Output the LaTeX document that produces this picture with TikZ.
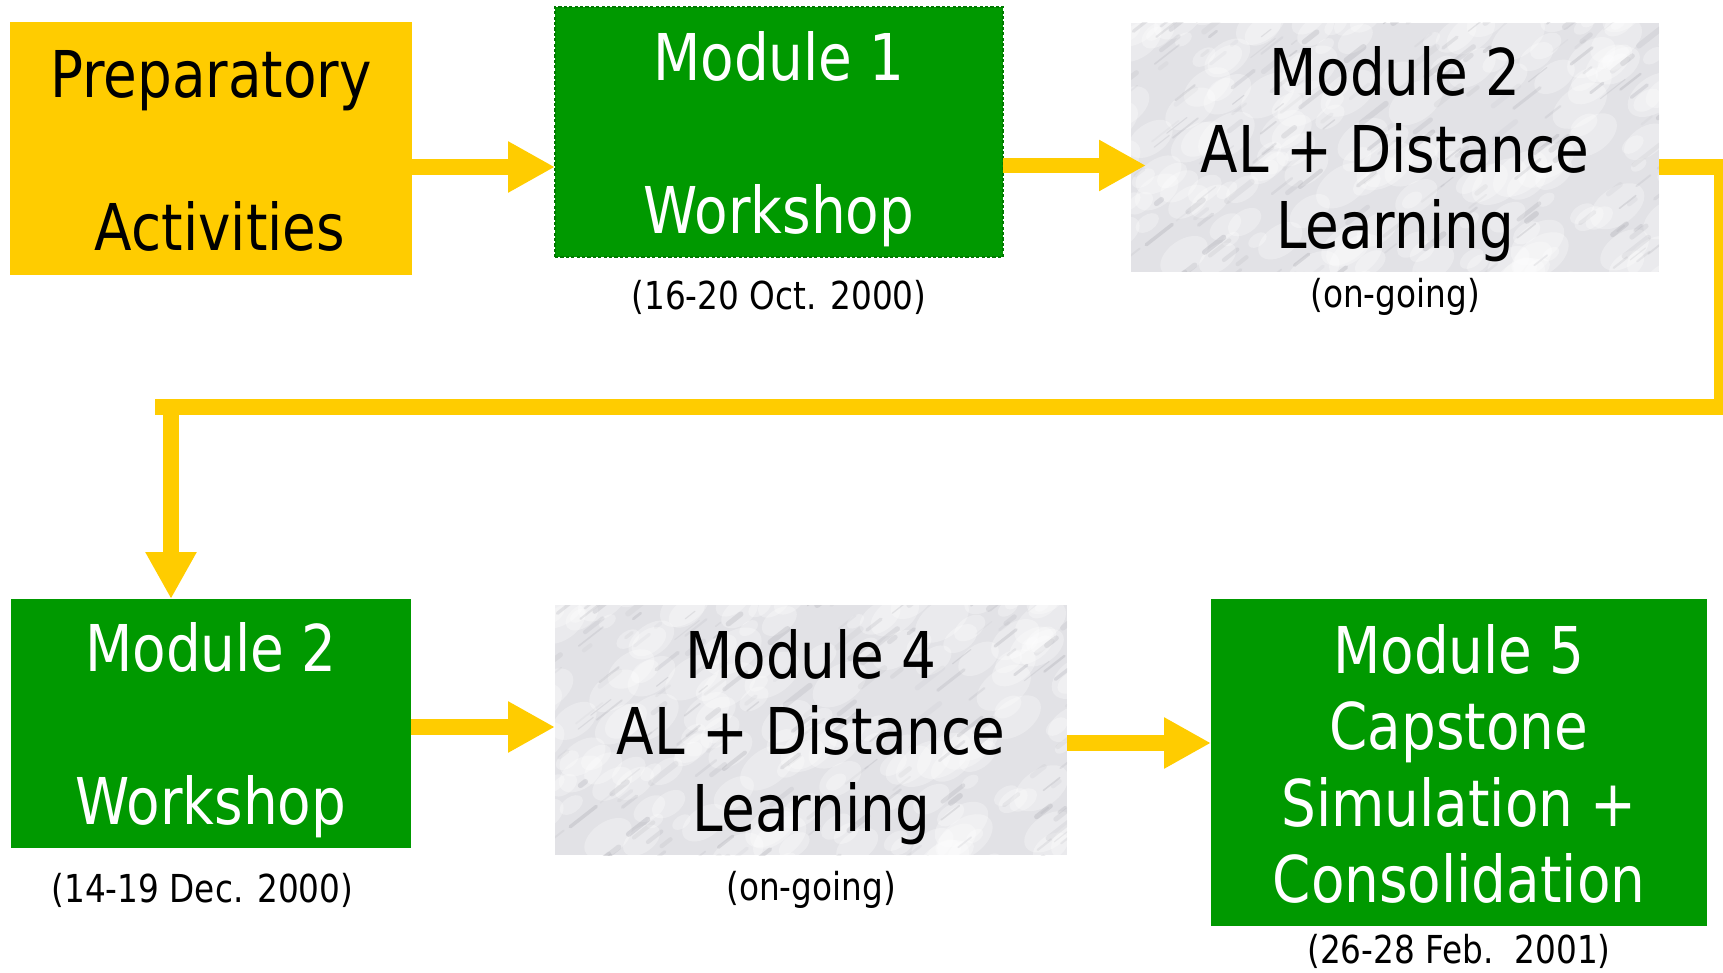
\documentclass[tikz,border=0pt]{standalone}
\usepackage{fontspec}
\setmainfont{DejaVu Sans}[FakeStretch=0.85]
\usetikzlibrary{arrows.meta,calc}
\definecolor{ppyellow}{HTML}{FFCC00}
\definecolor{ppgreen}{HTML}{009900}
\definecolor{ppgreenline}{HTML}{007A00}
\definecolor{marblebase}{HTML}{E2E2E6}
\definecolor{marblevein}{HTML}{8A8A94}
\newcommand{\lstr}{\rule[-6pt]{0pt}{37.5pt}}
\newcommand{\bigtxt}{\fontsize{32.25pt}{38.25pt}\selectfont}
\newcommand{\datetxt}{\fontsize{19.25pt}{23pt}\selectfont}
\pgfdeclarelayer{background}
\pgfsetlayers{background,main}
\tikzset{
  box/.style={anchor=north west, inner sep=0pt, outer sep=0pt, align=center, font=\bigtxt},
  greenbox/.style={box, fill=ppgreen, text=white},
  marble/.style={box, text=black},
  datelbl/.style={anchor=base, inner sep=0pt, font=\datetxt, text=black},
  conn/.style={draw=ppyellow, line width=7.75pt},
  arr/.style={conn, -{Triangle[length=23.5pt,width=24pt]}}
}
\begin{document}
\begin{tikzpicture}[x=0.5pt,y=-0.5pt]
\useasboundingbox (0,0) rectangle (1723,973);

\node[box, fill=ppyellow, minimum width=201pt, minimum height=126.5pt] (prep) at (10,22)
  {\lstr Preparatory\\[38.25pt]\lstr\hspace*{9pt}Activities};
\node[greenbox, draw=ppgreenline, dash pattern=on 1.6pt off 1.1pt, line width=0.7pt,
  minimum width=224pt, minimum height=125pt] (m1) at (555,7)
  {\lstr Module 1\\[38.25pt]\lstr Workshop};
\node[marble, minimum width=264pt, minimum height=124.5pt] (m2) at (1131,23)
  {\lstr Module 2\\\lstr AL + Distance\\\lstr Learning};
\node[greenbox, minimum width=200pt, minimum height=124.5pt] (m2b) at (11,599)
  {\lstr Module 2\\[38.25pt]\lstr Workshop};
\node[marble, minimum width=256pt, minimum height=125pt] (m4) at (555,605)
  {\lstr Module 4\\\lstr AL + Distance\\\lstr Learning};
\node[greenbox, minimum width=248pt, minimum height=163.5pt] (m5) at (1211,599)
  {\lstr Module 5\\\lstr Capstone\\\lstr Simulation +\\\lstr Consolidation};

% marble texture behind the two grey boxes
\begin{pgfonlayer}{background}
\foreach \nd in {m2,m4}{
  \begin{scope}
    \clip (\nd.north west) rectangle (\nd.south east);
    \fill[marblebase] (\nd.north west) rectangle (\nd.south east);
    \begin{scope}[shift={(\nd.north west)}]
      \pgfmathsetseed{4242}
      \foreach \k in {1,...,170}{
        \pgfmathsetmacro\rx{-20+560*rnd}
        \pgfmathsetmacro\ry{-10+270*rnd}
        \pgfmathsetmacro\ra{4+12*rnd}
        \fill[white, opacity=0.3] (\rx,\ry) ellipse [x radius=\ra pt, y radius=0.6*\ra pt, rotate=35];
      }
      \foreach \k in {1,...,200}{
        \pgfmathsetmacro\rx{-40+600*rnd}
        \pgfmathsetmacro\ry{-20+300*rnd}
        \pgfmathsetmacro\rl{3+14*rnd}
        \pgfmathsetmacro\rw{0.5+2.5*rnd}
        \pgfmathsetmacro\ro{0.05+0.17*rnd}
        \draw[marblevein, line width=\rw pt, line cap=round, opacity=\ro] (\rx,\ry) -- ++(38:\rl pt);
      }
    \end{scope}
  \end{scope}
}
\end{pgfonlayer}

\node[datelbl] (d1) at ($(m1.south)+(0,52)$) {(16-20 Oct. 2000)};
\node[datelbl] (d2) at ($(m2.south)+(0,35)$) {(on-going)};
\node[datelbl] (d3) at ($(m2b.south)+(-8.5,54)$) {(14-19 Dec. 2000)};
\node[datelbl] (d4) at ($(m4.south)+(0,45)$) {(on-going)};
\node[datelbl] (d5) at ($(m5.south)+(0,37)$) {(26-28 Feb.\ \ 2001)};

\coordinate (loopR) at (1722,407);
\coordinate (loopL) at (155,407);
\coordinate (dropTop) at (171,407);

\draw[arr] ($(prep.east)+(0,18.5)$) coordinate (a1) -- (a1 -| m1.west);
\draw[arr] ($(m1.east)+(0,33.5)$) coordinate (a2) -- ($(a2 -| m2.west)+(15,0)$);
\draw[conn, line join=miter] ($(m2.east)+(0,19.5)$) -| (loopR) -- (loopL);
\draw[arr] (dropTop) -- (dropTop |- m2b.north);
\draw[arr] ($(m2b.east)+(0,3.5)$) coordinate (a4) -- (a4 -| m4.west);
\draw[arr] ($(m4.east)+(0,13)$) coordinate (a5) -- (a5 -| m5.west);
\end{tikzpicture}
\end{document}
